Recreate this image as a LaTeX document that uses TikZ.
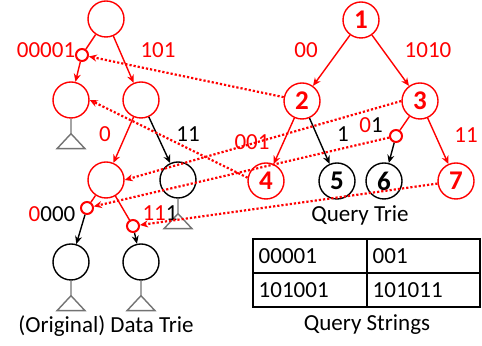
\documentclass[tikz,border=0pt]{standalone}
\usepackage{fontspec}
\setmainfont{Carlito}
\usetikzlibrary{arrows.meta}
\tikzset{
  trienode/.style={circle,draw,inner sep=0pt,minimum size=18pt,font=\fontsize{13.5}{15}\selectfont\bfseries},
  splitnode/.style={circle,draw=red,line width=1pt,inner sep=0pt,minimum size=6pt},
  lbl/.style={inner sep=0pt},
  match/.style={red,densely dotted,line width=1.1pt,-{Stealth[length=4pt,width=3.5pt]}},
  subtree/.style={gray!90!black,line width=0.7pt}
}
\begin{document}
\begin{tikzpicture}[x=0.5pt,y=-0.5pt,line width=0.7pt,font=\fontsize{11.5}{13}\selectfont,>={Stealth[length=4pt,width=3.5pt]}]
      \useasboundingbox (0,0) rectangle (482,346);
      % data trie
      \draw
        (106,19) node[trienode,red] (d0){}
        (82,55) node[splitnode] (s1){}
        (71,100) node[trienode,red] (d1){}
        (141,100) node[trienode,red] (d2){}
        (106,180) node[trienode,red] (d3){}
        (178,180) node[trienode] (d4){}
        (87,208) node[splitnode] (s2){}
        (133,226) node[splitnode] (s3){}
        (71,262) node[trienode] (d5){}
        (141,262) node[trienode] (d6){};
      % query trie
      \draw
        (361,20) node[trienode,red] (q1){1}
        (302,101) node[trienode,red] (q2){2}
        (420,101) node[trienode,red] (q3){3}
        (396,136) node[splitnode] (s4){}
        (266,181) node[trienode,red] (q4){4}
        (337,181) node[trienode] (q5){5}
        (384,181) node[trienode] (q6){6}
        (456,181) node[trienode,red] (q7){7};
      \begin{scope}[red]
        \draw (d0) to (s1);
        \draw[->] (s1) to (d1);
        \draw[->] (d0) to (d2);
        \draw[->] (d2) to (d3);
        \draw (d3) to (s2);
        \draw (d3) to (s3);
        \draw[->] (q1) to (q2);
        \draw[->] (q1) to (q3);
        \draw[->] (q2) to (q4);
        \draw (q3) to (s4);
        \draw[->] (q3) to (q7);
      \end{scope}
      \begin{scope}[->]
        \draw (d2) to (d4);
        \draw (s2) to (d5);
        \draw (s3) to (d6);
        \draw (q2) to (q5);
        \draw (s4) to (q6);
      \end{scope}
      % subtrees
      \foreach \n in {d1,d4,d5,d6}
        \draw[subtree] (\n.south) -- ++(0,15) -- ++(-14,15) -- ++(28,0) -- ++(-14,-15);
      % edge labels
      \node[lbl,red] (l1) at (46,50) {00001};
      \node[lbl,red] (l2) at (158,50) {101};
      \node[lbl,red] (l3) at (105,134) {0};
      \node[lbl] (l4) at (188,134) {11};
      \node[lbl] (l5) at (52,214) {\textcolor{red}{0}000};
      \node[lbl] (l6) at (160,213) {\textcolor{red}{11}1};
      \node[lbl,red] (l7) at (306,50) {00};
      \node[lbl,red] (l8) at (428,50) {1010};
      \node[lbl,red] (l9) at (252,142) {001};
      \node[lbl] (l10) at (343,134) {1};
      \node[lbl] (l11) at (371,125) {\textcolor{red}{0}1};
      \node[lbl,red] (l12) at (466,135) {11};
      % matches
      \begin{scope}[match]
        \draw (q2) to (s1);
        \draw (q4.170) to (d1.east);
        \draw (q3.west) to (d3.east);
        \draw (s4) to (s2);
        \draw (q7) to (s3);
      \end{scope}
      % captions
      \node (cap1) at (106,326) {(Original) Data Trie};
      \node (cap2) at (360,215) {Query Trie};
      \node (cap3) at (367,325) {Query Strings};
      % query strings
      \draw[line width=0.6pt] (253,239) rectangle (480,307) (253,273) -- (480,273) (367,239) -- (367,307);
      \node[lbl,anchor=west] (t1) at (258,256) {00001};
      \node[lbl,anchor=west] (t2) at (372,256) {001};
      \node[lbl,anchor=west] (t3) at (258,290) {101001};
      \node[lbl,anchor=west] (t4) at (372,290) {101011};
    \end{tikzpicture}
\end{document}
